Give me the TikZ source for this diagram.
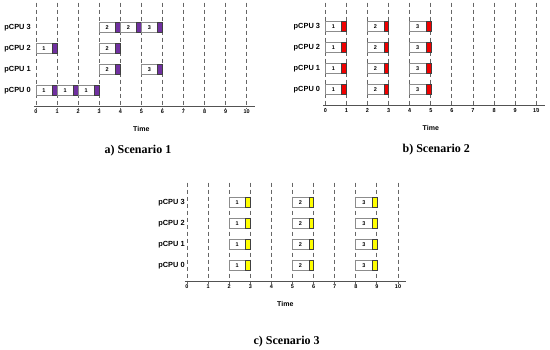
\documentclass[tikz,border=0pt]{standalone}
\usepackage{fontspec}
\setmainfont{Liberation Serif}
\setsansfont{Liberation Sans}
\definecolor{ppl}{HTML}{7030A0}
\definecolor{rd}{HTML}{F00000}
\definecolor{yl}{HTML}{FFFF00}
\definecolor{gridc}{HTML}{666666}
\definecolor{boxc}{HTML}{8C8C8C}
\tikzset{
  gridline/.style={gridc, line width=0.9pt, dash pattern=on 4.5pt off 2.5pt},
  axisline/.style={gridc!80!black, line width=0.8pt},
  boxline/.style={boxc, line width=0.8pt, fill=white},
  endline/.style={black!75, line width=0.6pt},
  cpu/.style={font=\sffamily\bfseries\fontsize{7.4}{8}\selectfont, anchor=east, inner sep=0pt},
  ticklbl/.style={font=\sffamily\bfseries\fontsize{5.5}{6}\selectfont, inner sep=0pt},
  numlbl/.style={font=\sffamily\bfseries\fontsize{5.5}{6}\selectfont, inner sep=0pt},
  timelbl/.style={font=\sffamily\bfseries\fontsize{7}{8}\selectfont, inner sep=0pt},
  title/.style={font=\bfseries\fontsize{12}{14}\selectfont, inner sep=0pt}
}
% #1 start, #2 row, #3 label, #4 colour
\newcommand\tbox[4]{%
  \pgfmathsetmacro\ry{-16-21*#2}%
  \draw[boxline] (#1,\ry-5.25) rectangle (#1+1,\ry+5.25);
  \draw[endline, fill=#4] (#1+0.78,\ry-5.25) rectangle (#1+1,\ry+5.25);
  \node[numlbl] at (#1+0.38,\ry) {#3};
}
% #1 dash top, #2 label offset
\newcommand\axes[2]{%
  \foreach \i in {0,...,10} {
    \draw[gridline] (\i,#1) -- (\i,2.5);
    \node[ticklbl] (t\i) at (\i,5.5) {\i};
  }
  \draw[axisline] (-0.1,0) -- (10.4,0);
  \foreach \r in {0,...,3} {
    \node[cpu] (c\r) at (#2,-16-21*\r) {pCPU \r};
  }
}
\begin{document}
\begin{tikzpicture}[x=1pt,y=-1pt]
\useasboundingbox (0,0) rectangle (550,349);
% Scenario 1
\begin{scope}[shift={(36,106.5)}, x=21.07pt]
  \axes{-104}{-0.24}
  \tbox{0}{0}{1}{ppl}\tbox{1}{0}{1}{ppl}\tbox{2}{0}{1}{ppl}
  \tbox{0}{2}{1}{ppl}
  \tbox{3}{1}{2}{ppl}\tbox{5}{1}{3}{ppl}
  \tbox{3}{2}{2}{ppl}
  \tbox{3}{3}{2}{ppl}\tbox{4}{3}{2}{ppl}\tbox{5}{3}{3}{ppl}
  \node[timelbl] (time1) at (5,22.8) {Time};
  \node[title] (s1) at (4.84,44) {a) Scenario 1};
\end{scope}
% Scenario 2
\begin{scope}[shift={(325.3,105.5)}, x=21.1pt]
  \axes{-103}{-0.24}
  \foreach \r in {0,...,3} {
    \tbox{0}{\r}{1}{rd}\tbox{2}{\r}{2}{rd}\tbox{4}{\r}{3}{rd}
  }
  \node[timelbl] (time2) at (5,22) {Time};
  \node[title] (s2) at (5.26,44) {b) Scenario 2};
\end{scope}
% Scenario 3
\begin{scope}[shift={(187,281.5)}, x=21.1pt]
  \axes{-99}{-0.1}
  \foreach \r in {0,...,3} {
    \tbox{2}{\r}{1}{yl}\tbox{5}{\r}{2}{yl}\tbox{8}{\r}{3}{yl}
  }
  \node[timelbl] (time3) at (4.66,22.8) {Time};
  \node[title] (s3) at (4.72,60.5) {c) Scenario 3};
\end{scope}
\end{tikzpicture}
\end{document}
